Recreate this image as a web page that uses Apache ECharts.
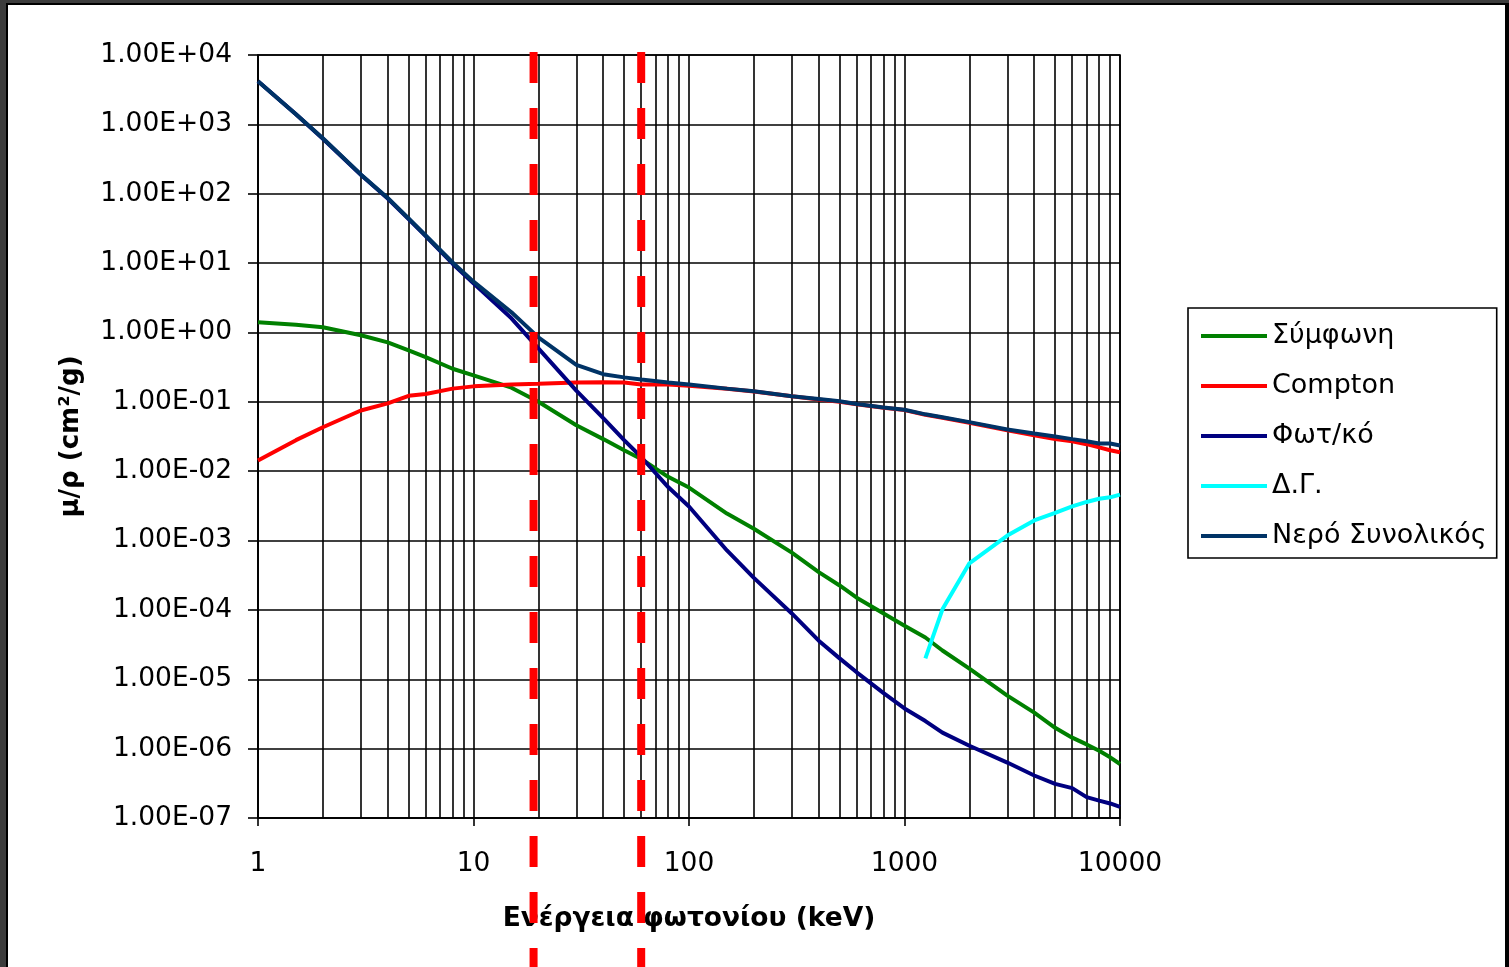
<!DOCTYPE html>
<html>
<head>
<meta charset="utf-8">
<script src="https://cdn.jsdelivr.net/npm/echarts@6/dist/echarts.min.js"></script>
<style>
  html, body { margin: 0; padding: 0; width: 1509px; height: 967px; overflow: hidden; background: #3d3d3d; }
  #frame { position: absolute; left: 6px; top: 3px; width: 1497px; height: 970px; background: #fff;
           border-left: 2px solid #000; border-top: 2px solid #000; border-right: 4px solid #000; }
  #chart { position: absolute; left: 0; top: 0; width: 1509px; height: 967px; }
</style>
</head>
<body>
<div id="frame"></div>
<div id="chart"></div>
<script>
// Photon energy (keV)
const energies = [1, 1.5, 2, 3, 4, 5, 6, 8, 10, 15, 20, 30, 40, 50, 60, 80, 100, 150, 200, 300, 400, 500, 600, 800,
                  1000, 1250, 1500, 2000, 3000, 4000, 5000, 6000, 7000, 8000, 9000, 10000];
// Coherent (Σύμφωνη)
const coherent = [1.40, 1.29, 1.19, 0.91, 0.72, 0.55, 0.44, 0.30, 0.24, 0.16, 0.10, 0.046, 0.029, 0.020, 0.015, 0.0083,
                  5.8e-3, 2.45e-3, 1.48e-3, 6.7e-4, 3.5e-4, 2.25e-4, 1.5e-4, 8.9e-5,
                  5.9e-5, 4.0e-5, 2.6e-5, 1.42e-5, 5.8e-6, 3.3e-6, 2.0e-6, 1.44e-6, 1.15e-6, 9.3e-7, 7.5e-7, 6.0e-7];
// Compton
const compton = [0.0143, 0.028, 0.043, 0.075, 0.095, 0.122, 0.13, 0.155, 0.167, 0.178, 0.182, 0.19, 0.192, 0.19, 0.178, 0.177,
                 0.17, 0.154, 0.141, 0.12, 0.108, 0.1, 0.092, 0.082,
                 0.076, 0.065, 0.059, 0.05, 0.039, 0.033, 0.029, 0.027, 0.0245, 0.022, 0.020, 0.0188];
// Photoelectric (Φωτ/κό)
const photo = [4200, 1400, 620, 188, 85, 43, 24.5, 9.8, 5.1, 1.6, 0.59, 0.145, 0.058, 0.028, 0.016, 0.0059,
               0.0031, 7.2e-4, 2.9e-4, 8.9e-5, 3.6e-5, 2.0e-5, 1.26e-5, 6.3e-6,
               3.8e-6, 2.5e-6, 1.7e-6, 1.1e-6, 6.3e-7, 4.1e-7, 3.1e-7, 2.7e-7, 2.0e-7, 1.78e-7, 1.62e-7, 1.45e-7];
// Pair production (Δ.Γ.)
const pair = [null, null, null, null, null, null, null, null, null, null, null, null, null, null, null, null,
              null, null, null, null, null, null, null, null,
              null, 2.0e-5, 1.02e-4, 4.7e-4, 1.18e-3, 1.95e-3, 2.5e-3, 3.1e-3, 3.6e-3, 4.0e-3, 4.2e-3, 4.6e-3];
// Water total (Νερό Συνολικός)
const total = [4200, 1400, 630, 190, 87, 44, 25, 10.2, 5.4, 1.95, 0.85, 0.34, 0.25, 0.225, 0.21, 0.19,
               0.178, 0.155, 0.142, 0.12, 0.11, 0.102, 0.093, 0.083,
               0.077, 0.066, 0.06, 0.051, 0.04, 0.035, 0.0316, 0.029, 0.027, 0.025, 0.025, 0.0235];

const seriesNames = ['Σύμφωνη', 'Compton', 'Φωτ/κό', 'Δ.Γ.', 'Νερό Συνολικός'];
const seriesColors = ['#008000', '#FF0000', '#000080', '#00FFFF', '#003366'];
const seriesValues = [coherent, compton, photo, pair, total];

const xTickLabels = ['1', '10', '100', '1000', '10000'];
const yTickLabels = ['1.00E-07', '1.00E-06', '1.00E-05', '1.00E-04', '1.00E-03', '1.00E-02',
                     '1.00E-01', '1.00E+00', '1.00E+01', '1.00E+02', '1.00E+03', '1.00E+04'];
const markerEnergies = [19, 60];

const minorX = [];
for (let d = 1; d < 10000; d *= 10) for (let m = 2; m <= 9; m++) minorX.push(m * d);

const FONT = 'DejaVu Sans';
const chart = echarts.init(document.getElementById('chart'), null, { renderer: 'canvas' });

const series = seriesNames.map((name, i) => ({
  name: name,
  type: 'line',
  data: energies.map((e, j) => [e, seriesValues[i][j]]).filter(p => p[1] != null),
  showSymbol: false,
  symbol: 'none',
  lineStyle: { color: seriesColors[i], width: 4 },
  itemStyle: { color: seriesColors[i] },
  z: 5,
  animation: false
}));
series.unshift({
  name: 'minorGrid',
  type: 'line',
  data: [],
  z: 1,
  silent: true,
  markLine: {
    silent: true,
    symbol: ['none', 'none'],
    label: { show: false },
    animation: false,
    lineStyle: { color: '#000', width: 1.6, type: 'solid' },
    emphasis: { disabled: true },
    data: minorX.map(v => ({ xAxis: v }))
  }
});

chart.setOption({
  animation: false,
  backgroundColor: 'transparent',
  grid: { left: 258, top: 55, right: 389, bottom: 149, show: true, borderColor: '#000', borderWidth: 1.6, containLabel: false },
  legend: {
    data: seriesNames,
    orient: 'vertical',
    left: 1188, top: 308,
    padding: [13, 10, 7, 13],
    itemGap: 20,
    itemWidth: 66, itemHeight: 4,
    icon: 'rect',
    backgroundColor: '#fff',
    borderColor: '#000', borderWidth: 1.6,
    textStyle: { fontFamily: FONT, fontSize: 27, color: '#000', lineHeight: 30 }
  },
  xAxis: {
    type: 'log', logBase: 10, min: 1, max: 10000, interval: 1,
    name: 'Ενέργεια φωτονίου (keV)',
    nameLocation: 'middle', nameGap: 88,
    nameTextStyle: { fontFamily: FONT, fontSize: 26.5, fontWeight: 'bold', color: '#000' },
    axisLine: { show: true, lineStyle: { color: '#000', width: 1.6 } },
    axisTick: { show: true, inside: false, length: 8, lineStyle: { color: '#000', width: 1.6 } },
    axisLabel: { fontFamily: FONT, fontSize: 26.5, color: '#000', margin: 33,
                 formatter: v => xTickLabels[Math.round(Math.log10(v))] },
    splitLine: { show: true, lineStyle: { color: '#000', width: 1.6 } },
    minorTick: { show: false }, minorSplitLine: { show: false }
  },
  yAxis: {
    type: 'log', logBase: 10, min: 1e-7, max: 1e4, interval: 1,
    name: 'μ/ρ (cm²/g)',
    nameLocation: 'middle', nameGap: 174, nameRotate: 90,
    nameTextStyle: { fontFamily: FONT, fontSize: 26, fontWeight: 'bold', color: '#000' },
    axisLine: { show: true, lineStyle: { color: '#000', width: 1.6 } },
    axisTick: { show: true, inside: false, length: 10, lineStyle: { color: '#000', width: 1.6 } },
    axisLabel: { fontFamily: FONT, fontSize: 26.5, color: '#000', margin: 26,
                 formatter: v => yTickLabels[Math.round(Math.log10(v)) + 7] },
    splitLine: { show: true, lineStyle: { color: '#000', width: 1.6 } }
  },
  series: series
});

const topY = chart.convertToPixel({ yAxisIndex: 0 }, 1e4) - 3;
chart.setOption({
  graphic: markerEnergies.map(e => {
    const px = chart.convertToPixel({ xAxisIndex: 0 }, e);
    return {
      type: 'line', silent: true, z: 100,
      shape: { x1: px, y1: topY, x2: px, y2: 967 },
      style: { stroke: '#FF0000', lineWidth: 8, lineDash: [31, 25] }
    };
  })
});
</script>
</body>
</html>
